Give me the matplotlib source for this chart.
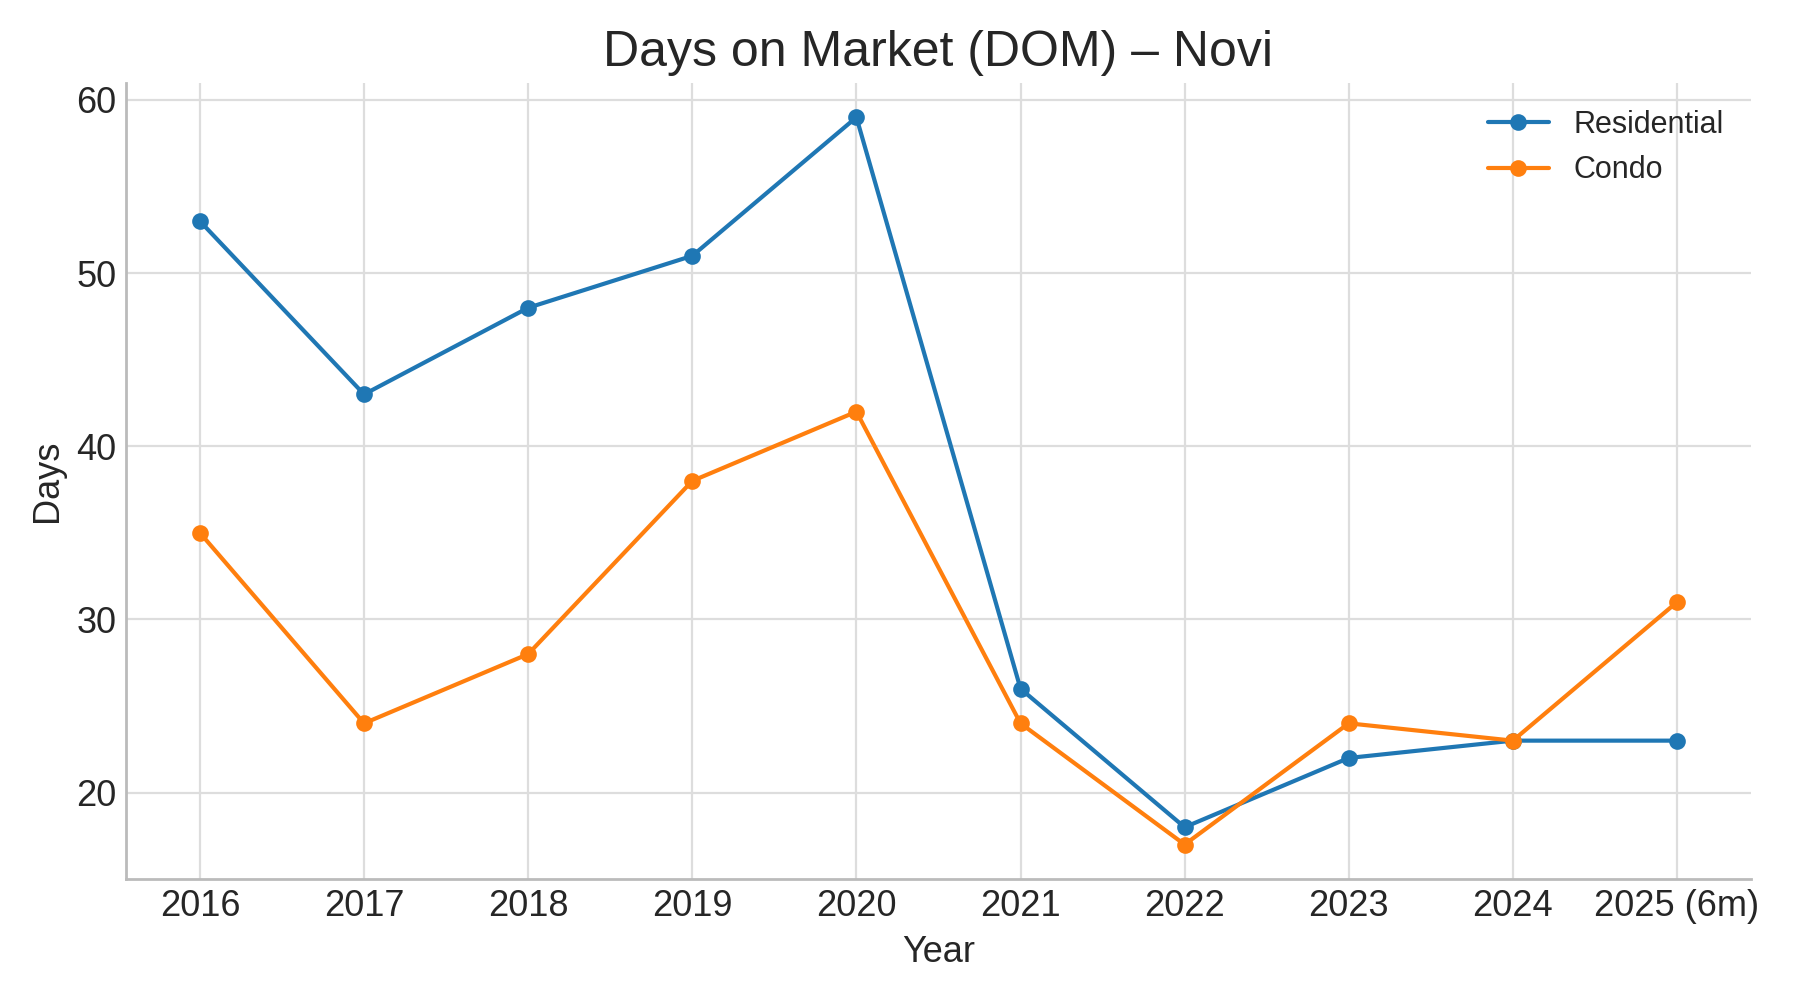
import matplotlib
matplotlib.use("Agg")
import matplotlib.pyplot as plt

years = ["2016", "2017", "2018", "2019", "2020", "2021", "2022", "2023", "2024", "2025 (6m)"]
residential = [53, 43, 48, 51, 59, 26, 18, 22, 23, 23]
condo = [35, 24, 28, 38, 42, 24, 17, 24, 23, 31]

plt.style.use("seaborn-v0_8-whitegrid")
plt.rcParams["font.family"] = "Liberation Sans"

fig, ax = plt.subplots(figsize=(9, 5), dpi=200)
x = range(len(years))
ax.plot(x, residential, marker="o", color="#1f77b4", linewidth=1.5, markersize=5, label="Residential")
ax.plot(x, condo, marker="o", color="#ff7f0e", linewidth=1.5, markersize=5, label="Condo")
ax.set_xticks(list(x))
ax.set_xticklabels(years, fontsize=13)
ax.tick_params(axis="y", labelsize=13)
ax.set_yticks([20, 30, 40, 50, 60])
ax.set_ylim(15, 61)
ax.set_xlim(-0.45, 9.45)
ax.set_title("Days on Market (DOM) – Novi", fontsize=18)
ax.set_xlabel("Year", fontsize=13)
ax.set_ylabel("Days", fontsize=13)
ax.legend(loc="upper right", fontsize=11)
for s in ["top", "right"]:
    ax.spines[s].set_visible(False)
for s in ["left", "bottom"]:
    ax.spines[s].set_visible(True)
    ax.spines[s].set_color("#bbbbbb")
ax.grid(color="#dddddd", linewidth=0.8)
fig.tight_layout()
fig.savefig("out.png")
